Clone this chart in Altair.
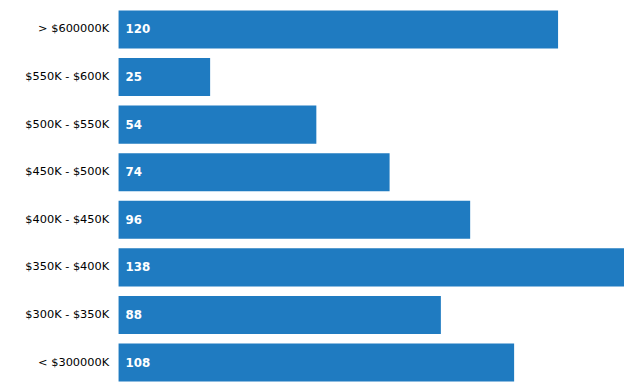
import altair as alt
import pandas as pd

categories = ["> $600000K", "$550K - $600K", "$500K - $550K", "$450K - $500K",
              "$400K - $450K", "$350K - $400K", "$300K - $350K", "< $300000K"]
values = [120, 25, 54, 74, 96, 138, 88, 108]

df = pd.DataFrame({"category": categories, "value": values})

base = alt.Chart(df).encode(
    y=alt.Y("category:N", sort=categories, title=None,
            scale=alt.Scale(paddingInner=0.2, paddingOuter=0),
            axis=alt.Axis(ticks=False, domain=False, labelPadding=10,
                          minExtent=112, maxExtent=112,
                          labelFont="DejaVu Sans", labelFontSize=11.5,
                          labelColor="#000000")),
)

bars = base.mark_bar(color="#1f7bc1").encode(
    x=alt.X("value:Q", title=None, axis=None,
            scale=alt.Scale(domain=[0, 138], nice=False, zero=True)),
)

labels = base.mark_text(align="left", baseline="middle", dx=7, color="white",
                        font="DejaVu Sans", fontWeight="bold", fontSize=12).encode(
    x=alt.value(0),
    text="value:Q",
)

chart = alt.layer(bars, labels).properties(
    width=624, height=377,
    padding={"left": 0, "top": 0, "right": 0, "bottom": 0},
    autosize=alt.AutoSizeParams(type="fit", contains="padding"),
).configure_view(stroke=None).configure_axis(grid=False)

chart.save("out.html", embed_options={"renderer": "svg", "actions": False})
